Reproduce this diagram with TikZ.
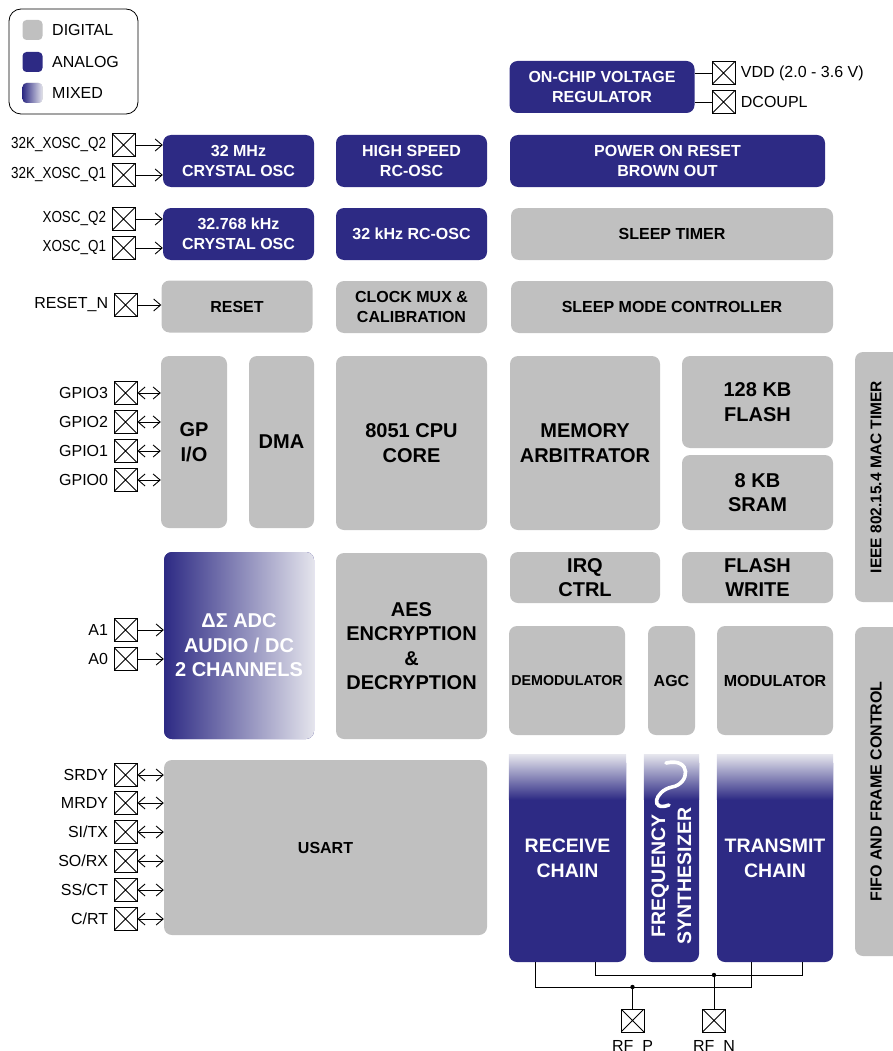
\documentclass[tikz,border=0pt]{standalone}
\usepackage{fontspec}
\setmainfont{Liberation Sans}
\usetikzlibrary{arrows.meta,calc}
\definecolor{chipnavy}{RGB}{45,42,132}
\definecolor{chipgrey}{RGB}{192,192,192}
\definecolor{chipfade}{RGB}{228,228,236}

\begin{document}
\begin{tikzpicture}[x=1pt,y=-1pt,>={Straight Barb[length=7pt,width=12pt]},
    blk/.style={fill=chipgrey,rounded corners=8,inner sep=0,align=center,
      font=\bfseries\fontsize{16}{20}\selectfont},
    ablk/.style={blk,fill=chipnavy,text=white},
    bigtxt/.style={font=\bfseries\fontsize{20}{24.5}\selectfont},
    sz/.style 2 args={minimum width=#1,minimum height=#2},
    pad/.style={draw,line width=0.8,minimum size=23,inner sep=0,
      path picture={\draw[line width=0.8]
        (path picture bounding box.north west)--(path picture bounding box.south east)
        (path picture bounding box.north east)--(path picture bounding box.south west);}},
    pinl/.style={font=\fontsize{16}{19}\selectfont},
    lpin/.style={pinl,xshift=-2pt},
    rpin/.style={pinl,xshift=2pt},
    wire/.style={line width=0.9},
    pinarr/.style={->,line width=0.9}]
  \useasboundingbox (0,0) rectangle (893,1051);

  % legend
  \node[draw,line width=0.8,rounded corners=12,sz={129}{105}] (lgd) at (73.5,61.5) {};
  \node[blk,rounded corners=4,sz={20}{20},label={[pinl,xshift=6pt]right:DIGITAL}] (swdig) at (32.5,30) {};
  \node[ablk,rounded corners=4,sz={20}{20},label={[pinl,xshift=6pt]right:ANALOG}] (swana) at (32.5,62) {};
  \node[blk,rounded corners=4,sz={20}{20},left color=chipnavy,right color=chipfade,
    label={[pinl,xshift=6pt]right:MIXED}] (swmix) at (32.5,93) {};

  % supply
  \node[ablk,sz={185}{52}] (reg) at (602,87) {ON-CHIP VOLTAGE\\REGULATOR};
  \node[pad,label={[rpin]right:VDD (2.0 - 3.6 V)}] (vdd) at (723.5,73) {};
  \node[pad,label={[rpin]right:DCOUPL}] (dcp) at (723.5,102) {};
  \draw[wire] (reg.east |- vdd) -- (vdd);
  \draw[wire] (reg.east |- dcp) -- (dcp);

  % clocks and reset
  \node[ablk,sz={151}{52}] (xo32) at (238.5,161) {32 MHz\\CRYSTAL OSC};
  \node[ablk,sz={151}{52}] (hsrc) at (411.5,161) {HIGH SPEED\\RC-OSC};
  \node[ablk,sz={315}{52}] (por) at (667.5,161) {POWER ON RESET\\BROWN OUT};
  \node[ablk,sz={151}{52}] (xo32k) at (238.5,234) {32.768 kHz\\CRYSTAL OSC};
  \node[ablk,sz={151}{52}] (rc32k) at (411.5,234) {32 kHz RC-OSC};
  \node[blk,sz={322}{52}] (slt) at (672,234) {SLEEP TIMER};
  \node[blk,sz={151}{52}] (rst) at (237,306.5) {RESET};
  \node[blk,sz={151}{52}] (cmux) at (411.5,307) {CLOCK MUX \&\\CALIBRATION};
  \node[blk,sz={322}{52}] (smc) at (672,307) {SLEEP MODE CONTROLLER};

  % core
  \node[blk,bigtxt,sz={66}{172}] (gpio) at (194,442) {GP\\I/O};
  \node[blk,bigtxt,sz={65}{172}] (dma) at (281.5,442) {DMA};
  \node[blk,bigtxt,sz={151}{174}] (cpu) at (411.5,443) {8051 CPU\\CORE};
  \node[blk,bigtxt,sz={150}{174}] (marb) at (585,443) {MEMORY\\ARBITRATOR};
  \node[blk,bigtxt,sz={151}{92}] (flash) at (757.5,402) {128 KB\\FLASH};
  \node[blk,bigtxt,sz={151}{75}] (sram) at (757.5,492.5) {8 KB\\SRAM};
  \node[blk,bigtxt,sz={150}{51}] (irq) at (585,577.5) {IRQ\\CTRL};
  \node[blk,bigtxt,sz={151}{51}] (fwr) at (757.5,577.5) {FLASH\\WRITE};
  \node[ablk,bigtxt,sz={150}{187},left color=chipnavy,right color=chipfade] (adc) at (239,645.5)
    {ΔΣ ADC\\AUDIO / DC\\2 CHANNELS};
  \node[blk,bigtxt,sz={151}{186}] (aes) at (411.5,646) {AES\\ENCRYPTION\\\&\\DECRYPTION};
  \node[blk,sz={116}{109},font=\bfseries\fontsize{14.3}{17}\selectfont] (demod) at (567,680.5) {DEMODULATOR};
  \node[blk,sz={47}{109}] (agc) at (671.5,680.5) {AGC};
  \node[blk,sz={116}{109}] (modu) at (775,680.5) {MODULATOR};
  \node[blk,sz={323}{175}] (usart) at (325.5,847.5) {USART};

  % radio
  \node[ablk,sz={117}{207},font=\bfseries\fontsize{19.5}{25}\selectfont] (rx) at (567.5,858.5) {RECEIVE\\CHAIN};
  \node[ablk,sz={55}{207}] (fsyn) at (671.5,858.5) {};
  \node[ablk,sz={116}{207},font=\bfseries\fontsize{19.5}{25}\selectfont] (tx) at (775,858.5) {TRANSMIT\\CHAIN};
  \foreach \nn in {rx,fsyn,tx}{
    \shade[top color=chipfade,bottom color=chipnavy] (\nn.north west) rectangle ($(\nn.north east)+(0,45)$);
  }
  \draw[white,line width=3.6,line cap=round] (666,763) .. controls (692,757) and (690,784) .. (672,787)
    .. controls (654,791) and (650,812) .. (669,805);
  \node[rotate=90,align=center,text=white,font=\bfseries\fontsize{19.5}{26}\selectfont] (fstxt) at (671.5,876)
    {FREQUENCY\\SYNTHESIZER};

  % side blocks
  \fill[chipgrey,rounded corners=8] (905,352) -- (855,352) -- (855,602) -- (905,602) -- cycle;
  \node[rotate=90,font=\bfseries\fontsize{15.5}{19}\selectfont] (mact) at (876,477) {IEEE 802.15.4 MAC TIMER};
  \fill[chipgrey,rounded corners=8] (905,627) -- (855,627) -- (855,956) -- (905,956) -- cycle;
  \node[rotate=90,font=\bfseries\fontsize{16}{19}\selectfont] (fifo) at (876,791.5) {FIFO AND FRAME CONTROL};

  % pins
  \node[pad,label={[lpin]left:\scalebox{0.84}[1]{32K\_XOSC\_Q2}}] (q2a) at (123.5,145) {};
  \node[pad,label={[lpin]left:\scalebox{0.84}[1]{32K\_XOSC\_Q1}}] (q1a) at (123.5,175) {};
  \node[pad,label={[lpin]left:\scalebox{0.84}[1]{XOSC\_Q2}}] (q2b) at (123.5,219) {};
  \node[pad,label={[lpin]left:\scalebox{0.84}[1]{XOSC\_Q1}}] (q1b) at (123.5,248) {};
  \node[pad,label={[lpin]left:RESET\_N}] (rstn) at (125.5,305) {};
  \foreach \pp in {q2a,q1a}{\draw[pinarr] (\pp) -- (\pp -| xo32.west);}
  \foreach \pp in {q2b,q1b}{\draw[pinarr] (\pp) -- (\pp -| xo32k.west);}
  \draw[pinarr] (rstn) -- (rstn -| rst.west);

  \foreach \yy/\lab in {393/3,422/2,451/1,480/0}{
    \node[pad,label={[lpin]left:GPIO\lab}] (gp\lab) at (125.5,\yy) {};
    \draw[pinarr,<->] (gp\lab) -- (gp\lab -| gpio.west);
  }
  \foreach \yy/\lab in {630/1,659/0}{
    \node[pad,label={[lpin]left:A\lab}] (ain\lab) at (125.5,\yy) {};
    \draw[pinarr] (ain\lab) -- (ain\lab -| adc.west);
  }
  \foreach \yy/\lab/\nm in {775/SRDY/srdy,803/MRDY/mrdy,832/SI\slash TX/sitx,861/SO\slash RX/sorx,890/SS\slash CT/ssct,919/C\slash RT/crt}{
    \node[pad,label={[lpin]left:\lab}] (\nm) at (125.5,\yy) {};
    \draw[pinarr,<->] (\nm) -- (\nm -| usart.west);
  }

  % rf
  \node[pad,label={[pinl,yshift=-5pt]below:RF\_P}] (rfp) at (632.5,1020.5) {};
  \node[pad,label={[pinl,yshift=-5pt]below:RF\_N}] (rfn) at (714,1020.5) {};
  \coordinate (jp) at (632.5,987);
  \coordinate (jn) at (714,975);
  \draw[wire] ([xshift=27]rx.south west) |- (jp) -| ([xshift=35]tx.south west);
  \draw[wire] ([xshift=-31]rx.south east) |- (jn) -| ([xshift=-31]tx.south east);
  \draw[wire] (jp) -- (rfp);
  \draw[wire] (jn) -- (rfn);
  \fill (jp) circle (2.2);
  \fill (jn) circle (2.2);
\end{tikzpicture}
\end{document}
